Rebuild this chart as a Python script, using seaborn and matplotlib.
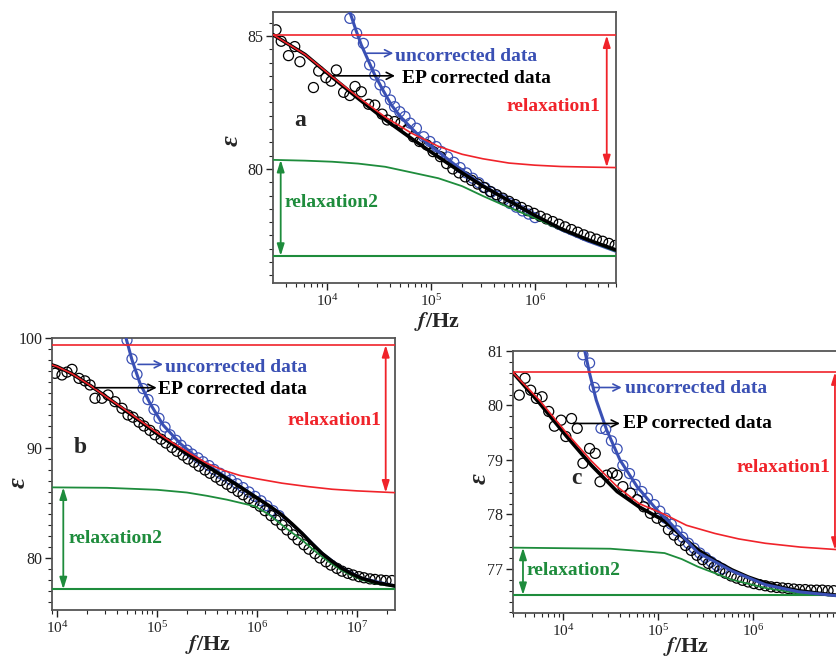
import matplotlib
matplotlib.use('Agg')
import matplotlib.pyplot as plt
import numpy as np
import seaborn as sns
from matplotlib.ticker import MultipleLocator, LogLocator, NullFormatter

sns.set_style('ticks')
plt.rcParams['font.family'] = ['Liberation Serif', 'DejaVu Serif']
plt.rcParams['mathtext.fontset'] = 'stix'

RED = '#f0232a'
BLUE = '#3a50b4'
GREEN = '#1e8c3c'

# ---------------- panel a (log10 f, eps) ----------------
a_fit_lf = [3.48, 3.79, 4.05, 4.30, 4.56, 4.81, 5.07, 5.30, 5.50, 5.75, 6.00, 6.25, 6.50, 6.78]
a_black_fit = [85.05, 84.30, 83.45, 82.65, 81.85, 81.15, 80.45, 79.85, 79.35, 78.80, 78.25, 77.75, 77.35, 76.95]
a_red_fit = [85.05, 84.30, 83.47, 82.70, 81.95, 81.35, 80.85, 80.55, 80.38, 80.22, 80.14, 80.09, 80.07, 80.05]
a_green_fit = [80.34, 80.31, 80.27, 80.20, 80.08, 79.87, 79.65, 79.35, 78.98, 78.55, 78.15, 77.72, 77.33, 76.90]
a_blue_lf = [4.22, 4.28, 4.33, 4.40, 4.46, 4.54, 4.62, 4.71, 4.81, 4.93, 5.07, 5.20, 5.35, 5.50, 5.75, 6.00, 6.25, 6.50, 6.78]
a_blue_fit = [85.9, 85.2, 84.66, 84.05, 83.53, 82.95, 82.40, 81.95, 81.54, 81.08, 80.65, 80.25, 79.80, 79.38, 78.80, 78.22, 77.72, 77.30, 76.90]
a_black_lf = [3.51, 3.56, 3.63, 3.69, 3.74, 3.87, 3.92, 3.99, 4.04, 4.09, 4.16, 4.22, 4.27, 4.33,
              4.40, 4.46, 4.53, 4.58, 4.65, 4.71, 4.77, 4.83, 4.89, 4.96, 5.02, 5.09,
              5.15, 5.21, 5.27, 5.33, 5.39, 5.45, 5.51, 5.57, 5.63, 5.69, 5.75, 5.81, 5.87, 5.93,
              5.99, 6.05, 6.11, 6.17, 6.23, 6.29, 6.35, 6.41, 6.47, 6.53, 6.59, 6.65, 6.71, 6.77]
a_black_eps = [85.23, 84.80, 84.26, 84.60, 84.03, 83.06, 83.68, 83.43, 83.30, 83.72, 82.88, 82.76, 83.10, 82.90,
               82.43, 82.40, 82.06, 81.84, 81.78, 81.72, 81.47, 81.21, 81.03, 80.90, 80.65, 80.46,
               80.20, 80.00, 79.85, 79.70, 79.57, 79.43, 79.30, 79.15, 79.03, 78.90, 78.78, 78.66, 78.55, 78.43,
               78.33, 78.22, 78.12, 78.02, 77.92, 77.82, 77.72, 77.62, 77.52, 77.44, 77.36, 77.28, 77.20, 77.12]
a_blue_pts_lf = [4.22, 4.285, 4.35, 4.41, 4.46, 4.51, 4.56, 4.61, 4.65, 4.70, 4.75, 4.80, 4.86, 4.93, 4.99, 5.05, 5.10,
                 5.16, 5.22, 5.28, 5.34, 5.40, 5.46, 5.52, 5.58, 5.64, 5.70, 5.76, 5.82, 5.88, 5.94, 6.00]
a_blue_pts = [85.66, 85.10, 84.72, 83.91, 83.53, 83.16, 82.91, 82.59, 82.34, 82.15, 81.97, 81.72, 81.53, 81.21, 81.03, 80.84, 80.65,
              80.45, 80.25, 80.05, 79.85, 79.65, 79.48, 79.30, 79.13, 78.97, 78.83, 78.70, 78.56, 78.42, 78.30, 78.17]

# ---------------- panel b ----------------
b_red_lf = [3.95, 4.00, 4.15, 4.33, 4.50, 4.67, 4.83, 5.00, 5.17, 5.33, 5.50, 5.67, 5.83, 6.00, 6.25, 6.50, 6.75, 7.00, 7.38]
b_red_fit = [97.55, 97.40, 96.75, 95.70, 94.60, 93.55, 92.50, 91.40, 90.40, 89.50, 88.60, 87.95, 87.50, 87.20, 86.80, 86.50, 86.25, 86.10, 85.94]
b_black_lf = [3.95, 4.00, 4.15, 4.33, 4.50, 4.67, 4.83, 5.00, 5.17, 5.33, 5.50, 5.63, 5.80, 5.98, 6.12, 6.25, 6.35,
              6.45, 6.55, 6.65, 6.75, 6.85, 6.95, 7.05, 7.20, 7.38]
b_black_fit = [97.55, 97.40, 96.75, 95.70, 94.60, 93.50, 92.45, 91.30, 90.25, 89.30, 88.35, 87.60, 86.65, 85.57, 84.75, 83.90, 83.10,
               82.24, 81.30, 80.42, 79.70, 79.06, 78.55, 78.15, 77.75, 77.45]
b_green_lf = [3.95, 4.50, 5.00, 5.30, 5.50, 5.70, 5.98, 6.12, 6.25, 6.35, 6.45, 6.55, 6.65, 6.75, 6.85, 6.95, 7.05, 7.20, 7.38]
b_green_fit = [86.42, 86.38, 86.20, 85.95, 85.65, 85.30, 84.70, 83.95, 83.00, 82.30, 81.64, 80.85, 80.12, 79.45, 78.85, 78.40, 78.00, 77.65, 77.40]
b_blue_lf = [4.69, 4.75, 4.83, 4.93, 5.06, 5.23, 5.43, 5.63, 5.80, 5.98, 6.25, 6.45, 6.65, 6.85, 7.05, 7.38]
b_blue_fit = [100.0, 98.0, 95.88, 94.06, 92.10, 90.42, 88.90, 87.70, 86.70, 85.60, 83.90, 82.24, 80.42, 79.06, 78.15, 77.45]
b_black_pts_lf = [3.98, 4.05, 4.10, 4.15, 4.22, 4.28, 4.33, 4.38, 4.45, 4.51, 4.58, 4.65, 4.71,
                  4.76, 4.82, 4.87, 4.93, 4.98, 5.04, 5.09, 5.15, 5.20, 5.26, 5.31, 5.37, 5.42, 5.48, 5.53, 5.59,
                  5.64, 5.70, 5.75, 5.81, 5.86, 5.92, 5.97, 6.03, 6.08, 6.14, 6.19, 6.25, 6.30, 6.36, 6.41, 6.47,
                  6.52, 6.58, 6.63, 6.69, 6.74, 6.80, 6.85, 6.91, 6.96, 7.02, 7.07, 7.13, 7.18, 7.24, 7.29, 7.35]
b_black_pts = [96.79, 96.64, 96.90, 97.15, 96.33, 96.10, 95.73, 94.52, 94.52, 94.82, 94.21, 93.61, 93.00,
               92.80, 92.35, 92.00, 91.60, 91.20, 90.80, 90.45, 90.05, 89.70, 89.35, 89.00, 88.70, 88.35, 88.00, 87.70, 87.35,
               87.05, 86.70, 86.40, 86.05, 85.75, 85.40, 85.05, 84.70, 84.30, 83.85, 83.45, 83.00, 82.55, 82.10, 81.65, 81.20,
               80.80, 80.40, 80.00, 79.65, 79.35, 79.05, 78.80, 78.60, 78.45, 78.30, 78.20, 78.10, 78.05, 78.00, 77.95, 77.95]
b_blue_pts_lf = [4.70, 4.75, 4.80, 4.86, 4.91, 4.97, 5.02, 5.08, 5.13, 5.19, 5.24, 5.30, 5.35, 5.41, 5.46, 5.52, 5.57,
                 5.63, 5.68, 5.74, 5.80, 5.86, 5.92, 5.98, 6.04, 6.10, 6.16, 6.22]
b_blue_pts = [99.80, 98.10, 96.70, 95.40, 94.40, 93.50, 92.70, 91.90, 91.20, 90.70, 90.25, 89.80, 89.45, 89.10, 88.75, 88.40, 88.05,
              87.70, 87.45, 87.10, 86.75, 86.40, 86.00, 85.60, 85.20, 84.75, 84.30, 83.85]

# ---------------- panel c ----------------
c_red_lf = [3.47, 3.75, 4.04, 4.30, 4.57, 4.80, 5.07, 5.30, 5.60, 5.85, 6.13, 6.50, 6.92]
c_red_fit = [80.61, 80.10, 79.49, 78.98, 78.51, 78.20, 78.00, 77.80, 77.65, 77.55, 77.47, 77.40, 77.35]
c_black_lf = [3.47, 3.75, 4.04, 4.30, 4.57, 4.80, 5.07, 5.25, 5.42, 5.60, 5.78, 5.95, 6.13, 6.30, 6.48, 6.70, 6.92]
c_black_fit = [80.61, 80.05, 79.43, 78.90, 78.42, 78.14, 77.88, 77.60, 77.35, 77.15, 76.98, 76.85, 76.74, 76.66, 76.60, 76.55, 76.51]
c_green_lf = [3.47, 4.50, 4.80, 5.07, 5.25, 5.42, 5.60, 5.78, 6.13, 6.48, 6.92]
c_green_fit = [77.39, 77.37, 77.33, 77.29, 77.18, 77.04, 76.92, 76.80, 76.65, 76.55, 76.50]
c_blue_lf = [4.23, 4.28, 4.35, 4.46, 4.60, 4.78, 4.99, 5.13, 5.42, 5.78, 6.13, 6.48, 6.92]
c_blue_fit = [81.0, 80.59, 80.10, 79.55, 79.00, 78.51, 78.08, 77.84, 77.30, 76.96, 76.71, 76.58, 76.50]
c_black_pts_lf = [3.54, 3.60, 3.66, 3.72, 3.78, 3.85, 3.91, 3.98, 4.03, 4.09, 4.15, 4.21, 4.28, 4.34, 4.39, 4.46,
                  4.52, 4.57, 4.63, 4.71, 4.78, 4.85, 4.92, 4.99, 5.06, 5.11,
                  5.17, 5.23, 5.29, 5.35, 5.41, 5.47, 5.53, 5.59, 5.65, 5.71, 5.77, 5.83, 5.89, 5.95, 6.01,
                  6.07, 6.13, 6.19, 6.25, 6.31, 6.37, 6.43, 6.49, 6.55, 6.61, 6.67, 6.73, 6.79, 6.85]
c_black_pts = [80.19, 80.50, 80.28, 80.13, 80.16, 79.89, 79.62, 79.73, 79.43, 79.76, 79.58, 78.94, 79.21, 79.12, 78.60, 78.72,
               78.76, 78.72, 78.51, 78.39, 78.27, 78.14, 78.02, 77.93, 77.87, 77.72,
               77.62, 77.52, 77.43, 77.34, 77.25, 77.17, 77.10, 77.03, 76.97, 76.92, 76.87, 76.83, 76.79, 76.76, 76.73,
               76.71, 76.69, 76.67, 76.66, 76.65, 76.64, 76.63, 76.62, 76.62, 76.61, 76.61, 76.61, 76.60, 76.60]
c_blue_pts_lf = [4.21, 4.28, 4.33, 4.40, 4.45, 4.51, 4.57, 4.63, 4.70, 4.76, 4.83, 4.89, 4.96, 5.02, 5.08, 5.14, 5.20,
                 5.26, 5.32, 5.38, 5.44, 5.50, 5.56, 5.62, 5.68]
c_blue_pts = [80.93, 80.78, 80.33, 79.58, 79.56, 79.35, 79.20, 78.90, 78.75, 78.55, 78.42, 78.30, 78.18, 78.06, 77.93, 77.82, 77.70,
              77.58, 77.47, 77.38, 77.29, 77.21, 77.13, 77.06, 77.00]


def f(lf):
    return 10 ** np.asarray(lf)


def line(ax, lf, y, color, lw, z):
    sns.lineplot(x=f(lf), y=y, color=color, lw=lw, ax=ax, zorder=z, estimator=None, sort=False)


def pts(ax, lf, y, color, lw, z):
    sns.scatterplot(x=f(lf), y=y, marker='o', s=52, fc='none', ec=color, linewidth=lw, ax=ax, zorder=z)


def double_arrow(ax, lf, y0, y1, color):
    ax.annotate('', xy=(10 ** lf, y1), xytext=(10 ** lf, y0),
                arrowprops=dict(arrowstyle='<|-|>,head_length=0.7,head_width=0.22', color=color, lw=1.3,
                                shrinkA=0, shrinkB=0), zorder=6)


def label_arrow(ax, lf0, lf1, y, color):
    ax.annotate('', xy=(10 ** lf1, y), xytext=(10 ** lf0, y),
                arrowprops=dict(arrowstyle='->,head_length=0.5,head_width=0.25', color=color, lw=1.2,
                                shrinkA=0, shrinkB=0), zorder=6)


def style(ax, xlim, ylim, major, minor, xlab_pos, ylab_pos):
    ax.set_xscale('log')
    ax.set_xlim(10 ** xlim[0], 10 ** xlim[1])
    ax.set_ylim(*ylim)
    ax.yaxis.set_major_locator(MultipleLocator(major))
    ax.yaxis.set_minor_locator(MultipleLocator(minor))
    ax.xaxis.set_major_locator(LogLocator(base=10, numticks=20))
    ax.xaxis.set_minor_locator(LogLocator(base=10, subs=np.arange(2, 10), numticks=20))
    ax.xaxis.set_minor_formatter(NullFormatter())
    ax.tick_params(which='major', direction='out', length=5, width=1, colors='#222222')
    ax.tick_params(axis='y', which='major', labelsize=11.5, pad=2)
    ax.tick_params(axis='x', which='major', labelsize=11, pad=2)
    ax.tick_params(which='minor', direction='out', length=3, width=0.8)
    for sp in ax.spines.values():
        sp.set_color('#555555')
        sp.set_linewidth(1.3)
    ax.set_xlabel(r'$\mathbfit{f}$/Hz', fontsize=16, fontweight='bold')
    ax.set_ylabel('ε', fontsize=19, fontweight='bold', fontstyle='italic')
    ax.xaxis.set_label_coords(*xlab_pos)
    ax.yaxis.set_label_coords(*ylab_pos)


txt = dict(fontsize=14, fontweight='bold', va='baseline')

fig = plt.figure(figsize=(8.37, 6.58), dpi=100)
ax_a = fig.add_axes([273 / 837, 1 - 283 / 658, 343 / 837, 271 / 658])
ax_b = fig.add_axes([52 / 837, 1 - 610 / 658, 343 / 837, 272 / 658])
ax_c = fig.add_axes([513 / 837, 1 - 613 / 658, 327 / 837, 262 / 658])

# panel a
ax = ax_a
pts(ax, a_blue_pts_lf, a_blue_pts, BLUE, 0.9, 2)
pts(ax, a_black_lf, a_black_eps, 'black', 0.9, 2.5)
line(ax, a_blue_lf, a_blue_fit, BLUE, 2.2, 3)
line(ax, a_fit_lf, a_green_fit, GREEN, 1.3, 3.2)
line(ax, a_fit_lf, a_black_fit, 'black', 2.6, 4)
line(ax, a_fit_lf, a_red_fit, RED, 1.2, 4.5)
ax.axhline(85.02, color=RED, lw=1.2, zorder=4.5)
ax.axhline(76.73, color=GREEN, lw=1.5, zorder=3.2)
double_arrow(ax, 6.69, 85.02, 80.06, RED)
double_arrow(ax, 3.555, 80.34, 76.73, GREEN)
label_arrow(ax, 4.382, 4.638, 84.35, BLUE)
label_arrow(ax, 4.058, 4.654, 83.5, 'black')
ax.text(10 ** 4.654, 84.07, 'uncorrected data', color=BLUE, **txt)
ax.text(10 ** 4.718, 83.24, 'EP corrected data', color='black', **txt)
ax.text(10 ** 6.173, 82.19, 'relaxation1', color=RED, ha='center', **txt)
ax.text(10 ** 3.596, 78.56, 'relaxation2', color=GREEN, ha='left', **txt)
ax.text(10 ** 3.683, 81.62, 'a', fontsize=17, fontweight='bold', va='baseline')
style(ax, (3.481, 6.779), (75.71, 85.9), 5, 0.5, (0.478, -0.1), (-0.087, 0.524))

# panel b
ax = ax_b
pts(ax, b_blue_pts_lf, b_blue_pts, BLUE, 0.9, 2)
pts(ax, b_black_pts_lf, b_black_pts, 'black', 0.9, 2.5)
line(ax, b_blue_lf, b_blue_fit, BLUE, 2.2, 3)
line(ax, b_green_lf, b_green_fit, GREEN, 1.3, 3.2)
line(ax, b_black_lf, b_black_fit, 'black', 2.6, 4)
line(ax, b_red_lf, b_red_fit, RED, 1.2, 4.5)
ax.axhline(99.36, color=RED, lw=1.2, zorder=4.5)
ax.axhline(77.15, color=GREEN, lw=1.5, zorder=3.2)
double_arrow(ax, 7.287, 99.36, 85.94, RED)
double_arrow(ax, 4.063, 86.42, 77.15, GREEN)
label_arrow(ax, 4.81, 5.06, 97.6, BLUE)
label_arrow(ax, 4.38, 4.997, 95.48, 'black')
ax.text(10 ** 5.08, 96.94, 'uncorrected data', color=BLUE, **txt)
ax.text(10 ** 5.013, 94.88, 'EP corrected data', color='black', **txt)
ax.text(10 ** 6.773, 92.09, 'relaxation1', color=RED, ha='center', **txt)
ax.text(10 ** 4.113, 81.33, 'relaxation2', color=GREEN, ha='left', **txt)
ax.text(10 ** 4.17, 89.57, 'b', fontsize=17, fontweight='bold', va='baseline')
style(ax, (3.95, 7.38), (75.27, 100), 10, 1, (0.455, -0.085), (-0.064, 0.47))

# panel c
ax = ax_c
pts(ax, c_blue_pts_lf, c_blue_pts, BLUE, 0.9, 2)
pts(ax, c_black_pts_lf, c_black_pts, 'black', 0.9, 2.5)
line(ax, c_green_lf, c_green_fit, GREEN, 1.3, 3.2)
line(ax, c_black_lf, c_black_fit, 'black', 2.6, 4)
line(ax, c_red_lf, c_red_fit, RED, 1.2, 4.5)
line(ax, c_blue_lf, c_blue_fit, BLUE, 2.2, 4.2)
ax.axhline(80.61, color=RED, lw=1.2, zorder=4.5)
ax.axhline(76.52, color=GREEN, lw=1.5, zorder=3.2)
double_arrow(ax, 6.863, 80.61, 77.35, RED)
double_arrow(ax, 3.579, 77.39, 76.52, GREEN)
label_arrow(ax, 4.319, 4.618, 80.33, BLUE)
label_arrow(ax, 4.109, 4.6, 79.67, 'black')
ax.text(10 ** 4.653, 80.22, 'uncorrected data', color=BLUE, **txt)
ax.text(10 ** 4.635, 79.58, 'EP corrected data', color='black', **txt)
ax.text(10 ** 6.319, 78.77, 'relaxation1', color=RED, ha='center', **txt)
ax.text(10 ** 3.618, 76.89, 'relaxation2', color=GREEN, ha='left', **txt)
ax.text(10 ** 4.092, 78.56, 'c', fontsize=17, fontweight='bold', va='baseline')
style(ax, (3.474, 6.916), (76.19, 81.0), 1, 0.2, (0.53, -0.085), (-0.067, 0.515))

fig.savefig('out.png', dpi=100)
